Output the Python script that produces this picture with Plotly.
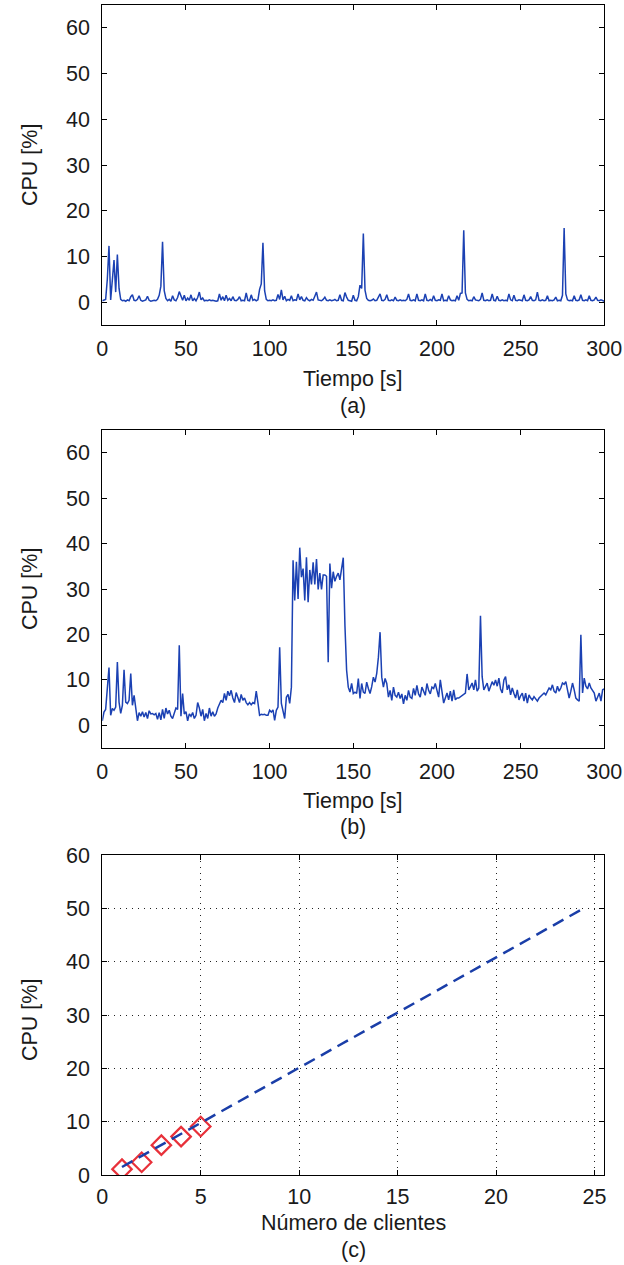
import plotly.graph_objects as go

# ---------------------------------------------------------------------------
# Data
# ---------------------------------------------------------------------------
# (a) CPU usage sampled once per second, idle server (0..300 s)
cpu_idle = [
    0.3, 0.4, 0.6, 5.0, 12.3, 0.5, 5.0, 9.2, 2.2, 10.4,
    3.0, 0.6, 0.3, 0.4, 0.2, 0.5, 0.3, 1.2, 1.6, 0.4,
    0.3, 0.6, 1.4, 0.4, 0.2, 0.3, 0.5, 1.3, 0.4, 0.2,
    0.3, 0.4, 0.3, 0.6, 1.5, 3.5, 13.2, 2.5, 0.8, 0.3,
    0.6, 0.2, 1.4, 0.5, 0.3, 1.0, 2.3, 1.2, 0.4, 1.5,
    0.3, 0.9, 0.4, 1.6, 0.3, 0.8, 0.3, 1.0, 2.2, 0.5,
    0.9, 0.3, 0.4, 0.3, 0.5, 0.3, 0.4, 0.3, 0.2, 0.3,
    1.8, 0.4, 1.2, 0.3, 1.5, 0.4, 0.8, 0.3, 1.2, 0.4,
    0.3, 0.6, 1.2, 0.3, 0.4, 0.3, 2.0, 0.4, 0.3, 1.6,
    0.4, 0.6, 0.3, 0.5, 2.8, 4.0, 13.0, 2.5, 0.6, 0.3,
    0.4, 0.3, 0.5, 0.3, 0.4, 1.7, 0.6, 2.7, 0.5, 1.3,
    0.3, 0.6, 0.4, 1.4, 0.3, 0.5, 0.4, 1.8, 0.5, 1.2,
    0.4, 0.3, 1.0, 0.5, 0.3, 0.6, 0.4, 1.3, 2.2, 0.5,
    0.4, 0.3, 0.6, 1.1, 0.4, 0.3, 0.5, 0.3, 0.4, 0.6,
    0.3, 0.4, 1.6, 0.4, 0.3, 2.1, 1.1, 0.4, 0.3, 0.2,
    1.5, 0.4, 0.3, 1.2, 3.7, 3.0, 15.0, 2.6, 0.8, 0.4,
    0.3, 0.4, 0.7, 0.3, 0.4, 1.1, 1.8, 0.4, 0.3, 0.6,
    1.6, 0.4, 0.3, 0.5, 0.3, 1.1, 0.4, 0.3, 0.5, 0.3,
    0.4, 0.3, 0.6, 1.8, 0.4, 0.3, 0.5, 0.3, 1.8, 0.4,
    0.3, 0.5, 0.3, 1.8, 0.4, 0.3, 0.6, 0.3, 1.4, 0.4,
    0.3, 0.5, 0.4, 1.8, 0.3, 0.4, 0.3, 1.4, 0.5, 0.3,
    0.4, 0.3, 1.4, 0.4, 1.9, 2.0, 15.7, 2.0, 0.6, 0.3,
    0.4, 0.3, 1.2, 0.5, 0.4, 0.3, 0.6, 2.0, 0.4, 0.3,
    0.5, 0.3, 0.4, 1.8, 0.4, 0.3, 1.3, 0.4, 0.3, 0.5,
    0.3, 0.4, 0.3, 1.8, 0.5, 0.3, 1.5, 0.4, 0.3, 0.5,
    0.4, 0.3, 1.6, 0.4, 0.3, 0.5, 1.2, 0.4, 0.3, 0.5,
    2.2, 0.4, 0.3, 0.5, 0.3, 0.4, 1.4, 0.3, 0.4, 0.3,
    0.5, 1.1, 0.3, 0.4, 0.3, 1.5, 16.2, 1.8, 0.5, 0.3,
    0.4, 0.3, 1.4, 0.4, 0.3, 0.5, 1.6, 0.4, 0.3, 0.5,
    0.3, 1.4, 0.4, 0.3, 0.5, 1.1, 0.4, 0.3, 0.5, 0.3,
    0.2,
]

# (b) CPU usage sampled once per second, server under load (0..300 s)
cpu_load = [
    1.0, 2.9, 3.5, 8.0, 12.7, 2.2, 3.7, 3.3, 4.0, 13.9,
    5.1, 2.6, 4.4, 12.2, 5.1, 4.8, 5.5, 11.4, 4.4, 6.6,
    3.3, 1.0, 2.8, 2.0, 3.0, 1.8, 2.8, 1.5, 3.2, 2.5,
    2.6, 2.3, 2.6, 1.3, 2.8, 1.2, 3.5, 1.5, 3.8, 2.5,
    3.3, 2.0, 1.5, 2.8, 3.8, 3.5, 17.6, 2.0, 7.0, 2.5,
    3.0, 1.0, 2.5, 2.0, 2.8, 1.5, 2.2, 5.0, 3.8, 2.0,
    3.5, 1.0, 2.6, 1.5, 3.8, 2.0, 3.0, 2.0, 2.5, 3.8,
    4.5, 5.5, 5.0, 7.0, 5.5, 7.5, 6.5, 7.7, 6.0, 5.0,
    7.2, 6.0, 5.0, 6.8, 5.5, 6.0, 5.0, 4.5, 5.0, 4.5,
    5.0, 4.8, 7.5, 5.0, 2.2, 2.4, 2.3, 2.4, 2.2, 2.2,
    3.3, 2.9, 3.4, 1.1, 3.3, 4.0, 17.2, 4.8, 2.9, 1.5,
    6.2, 6.8, 4.8, 8.4, 36.3, 27.5, 36.0, 27.8, 39.1, 32.6,
    34.5, 27.5, 37.0, 27.1, 34.2, 31.0, 35.9, 31.0, 36.6, 29.9,
    33.5, 29.9, 33.1, 33.1, 32.8, 13.9, 35.6, 30.2, 33.8, 31.7,
    32.8, 33.5, 32.0, 34.2, 36.9, 22.0, 12.1, 8.4, 7.3, 9.2,
    7.0, 7.3, 7.0, 10.3, 5.9, 9.2, 7.3, 7.0, 9.5, 8.1,
    7.0, 8.5, 10.6, 9.5, 11.4, 15.0, 20.5, 10.6, 8.4, 10.3,
    9.2, 6.2, 7.7, 5.5, 8.4, 6.6, 6.2, 7.3, 5.9, 6.9,
    4.7, 6.6, 5.5, 7.7, 6.2, 5.9, 8.1, 6.6, 8.8, 6.9,
    6.2, 8.4, 7.3, 6.6, 9.2, 7.7, 6.9, 8.4, 8.1, 9.2,
    7.7, 6.2, 10.0, 6.7, 4.9, 6.0, 7.1, 5.6, 7.5, 5.3,
    7.8, 5.6, 6.0, 6.0, 6.3, 6.5, 6.7, 7.1, 11.3, 7.8,
    8.5, 9.3, 7.8, 10.0, 7.5, 8.2, 24.1, 10.7, 7.8, 8.5,
    9.3, 7.5, 8.6, 9.6, 8.8, 10.0, 8.6, 10.4, 8.0, 7.1,
    10.0, 10.7, 7.8, 8.9, 6.7, 8.2, 7.0, 6.0, 7.8, 5.6,
    6.5, 7.1, 5.3, 7.1, 4.9, 6.7, 6.0, 5.6, 6.3, 5.8,
    5.3, 6.0, 6.3, 6.8, 7.1, 6.7, 7.5, 8.2, 7.8, 8.9,
    7.5, 7.1, 8.6, 7.5, 8.2, 9.3, 9.0, 9.6, 7.8, 6.0,
    7.5, 9.3, 7.8, 6.0, 5.6, 5.3, 19.9, 7.1, 10.4, 8.6,
    8.0, 9.3, 8.2, 7.6, 7.1, 5.3, 6.2, 7.1, 5.3, 7.8,
    8.0,
]

time_idle = list(range(len(cpu_idle)))   # seconds
time_load = list(range(len(cpu_load)))   # seconds

# (c) measured mean CPU per number of clients and the linear extrapolation
clients = [1, 2, 3, 4, 5]
cpu_measured = [1.1, 2.4, 5.6, 7.2, 9.1]
fit_clients = [1.0, 24.5]
fit_cpu = [1.5, 50.1]

time_ticks = [0, 50, 100, 150, 200, 250, 300]
cpu_ticks = [0, 10, 20, 30, 40, 50, 60]
client_ticks = [0, 5, 10, 15, 20, 25]

# ---------------------------------------------------------------------------
# Layout geometry (pixels)
# ---------------------------------------------------------------------------
W, H = 624, 1265
PLOT_LEFT, PLOT_RIGHT = 102.3, 604.3
PANELS = {          # top, bottom of each plotting area
    "a": (5, 325),
    "b": (430, 748),
    "c": (855, 1175),
}

FONT = "Liberation Sans, Arial, Helvetica, sans-serif"
LINE_BLUE = "#1b41b3"
DASH_BLUE = "#1a3ea8"
RED = "#e8313a"
FS = 21.5


def ydom(key):
    top, bottom = PANELS[key]
    return [1 - bottom / H, 1 - top / H]


def py(pix):
    return 1 - pix / H


xdom = [PLOT_LEFT / W, PLOT_RIGHT / W]

fig = go.Figure()

fig.add_trace(go.Scatter(
    x=time_idle, y=cpu_idle, mode="lines", xaxis="x", yaxis="y",
    line=dict(color=LINE_BLUE, width=1.5), showlegend=False,
))
fig.add_trace(go.Scatter(
    x=time_load, y=cpu_load, mode="lines", xaxis="x2", yaxis="y2",
    line=dict(color=LINE_BLUE, width=1.5), showlegend=False,
))
fig.add_trace(go.Scatter(
    x=clients, y=cpu_measured, mode="markers", xaxis="x3", yaxis="y3",
    marker=dict(symbol="diamond-open", size=15, color=RED,
                line=dict(color=RED, width=2.2)),
    showlegend=False,
))
fig.add_trace(go.Scatter(
    x=fit_clients, y=fit_cpu, mode="lines", xaxis="x3", yaxis="y3",
    line=dict(color=DASH_BLUE, width=2.5, dash="12px,7px"),
    showlegend=False,
))

axis_common = dict(
    showline=True, linecolor="black", linewidth=1, mirror="ticks",
    ticks="inside", ticklen=5, tickwidth=1, tickcolor="black",
    zeroline=False, showgrid=False, automargin=False,
    tickfont=dict(family=FONT, size=FS, color="#1a1a1a"),
)

time_axis = dict(axis_common, range=[0, 300], tickvals=time_ticks,
                 ticklabelstandoff=4)
cpu_axis = dict(axis_common, range=[-5, 65], tickvals=cpu_ticks,
                ticklabelstandoff=7)

fig.update_layout(
    width=W, height=H,
    margin=dict(l=0, r=0, t=0, b=0, autoexpand=False),
    paper_bgcolor="white", plot_bgcolor="white",
    xaxis=dict(time_axis, domain=xdom, anchor="y"),
    yaxis=dict(cpu_axis, domain=ydom("a"), anchor="x"),
    xaxis2=dict(time_axis, domain=xdom, anchor="y2"),
    yaxis2=dict(cpu_axis, domain=ydom("b"), anchor="x2"),
    xaxis3=dict(axis_common, domain=xdom, anchor="y3", range=[0, 25.5],
                tickvals=client_ticks, showgrid=True, gridcolor="#222",
                gridwidth=1, griddash="1px,5px", ticklabelstandoff=2),
    yaxis3=dict(axis_common, domain=ydom("c"), anchor="x3", range=[0, 60],
                tickvals=cpu_ticks, showgrid=True, gridcolor="#222",
                gridwidth=1, griddash="1px,5px", ticklabelstandoff=7),
)

# Axis titles and panel captions
xc = (PLOT_LEFT + PLOT_RIGHT) / 2 / W
texts = [
    ("Tiempo [s]", xc, 379, 0),
    ("(a)", xc, 406, 0),
    ("Tiempo [s]", xc, 801, 0),
    ("(b)", xc, 827, 0),
    ("Número de clientes", xc, 1223, 0),
    ("(c)", xc, 1250, 0),
    ("CPU [%]", 30 / W, sum(PANELS["a"]) / 2, -90),
    ("CPU [%]", 30 / W, sum(PANELS["b"]) / 2, -90),
    ("CPU [%]", 30 / W, sum(PANELS["c"]) / 2 + 5, -90),
]
for text, x, ypix, angle in texts:
    fig.add_annotation(
        text=text, x=x, y=py(ypix), xref="paper", yref="paper",
        xanchor="center", yanchor="middle", showarrow=False,
        textangle=angle, font=dict(family=FONT, size=FS, color="#1a1a1a"),
    )

fig.write_html("out.html", config={"displayModeBar": False})
